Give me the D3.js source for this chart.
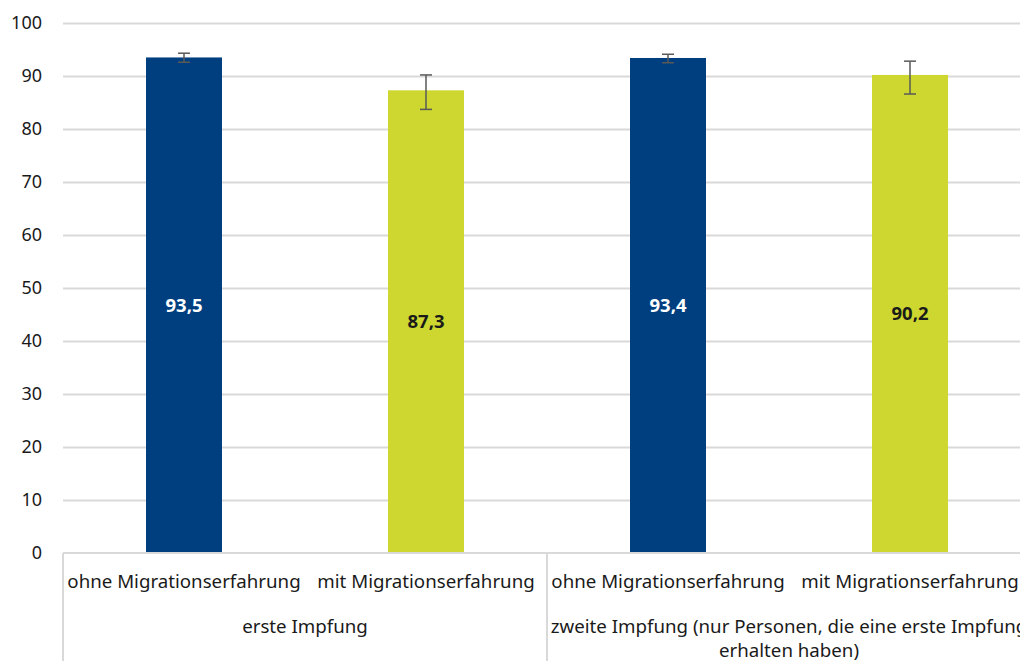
<!DOCTYPE html>
<html>
<head>
<meta charset="utf-8">
<title>Impfung</title>
<script src="https://d3js.org/d3.v7.min.js"></script>
<style>
  body { margin: 0; background: #fff; }
  svg { display: block; font-family: "Noto Sans", sans-serif; }
  .grid line { stroke: #d9d9d9; stroke-width: 2px; }
  .grid .domain { display: none; }
</style>
</head>
<body>
<script>
// data
var categories = ["ohne Migrationserfahrung", "mit Migrationserfahrung", "ohne Migrationserfahrung", "mit Migrationserfahrung"];
var groups = [["erste Impfung"], ["zweite Impfung (nur Personen, die eine erste Impfung", "erhalten haben)"]];
var values = [93.5, 87.3, 93.4, 90.2];
var errLow = [92.6, 83.7, 92.5, 86.6];
var errHigh = [94.3, 90.2, 94.1, 92.8];
var labels = ["93,5", "87,3", "93,4", "90,2"];
var yTicks = [0, 10, 20, 30, 40, 50, 60, 70, 80, 90, 100];

var W = 1020, H = 661;
var margin = {top: 23, left: 63, bottom: 108};
var plotH = H - margin.top - margin.bottom;   // 530
var plotRight = 1031;
var fs = 18.7;

var svg = d3.select("body").append("svg")
    .attr("width", W)
    .attr("height", H);

var x = d3.scaleBand()
    .domain(d3.range(categories.length))
    .range([margin.left, plotRight])
    .paddingInner(0.686)
    .paddingOuter(0.343);

var y = d3.scaleLinear().domain([0, 100]).range([margin.top + plotH, margin.top]);

var colors = ["#003f7f", "#cdd72f", "#003f7f", "#cdd72f"];

// gridlines
svg.append("g")
    .attr("class", "grid")
    .attr("transform", "translate(" + margin.left + ",0)")
    .call(d3.axisLeft(y).tickValues(yTicks.slice(1)).tickSize(-(plotRight - margin.left)).tickFormat(""));

// y tick labels
svg.selectAll(".ylab")
    .data(yTicks)
    .enter().append("text")
    .attr("x", 42)
    .attr("y", function(d) { return y(d); })
    .attr("dy", "0.35em")
    .attr("text-anchor", "end")
    .attr("font-size", 18)
    .attr("fill", "#1a1a1a")
    .text(function(d) { return d; });

// bars
svg.selectAll(".bar")
    .data(values)
    .enter().append("rect")
    .attr("x", function(d, i) { return x(i); })
    .attr("y", function(d) { return y(d); })
    .attr("width", x.bandwidth())
    .attr("height", function(d) { return y(0) - y(d); })
    .attr("fill", function(d, i) { return colors[i]; });

// error bars
var eb = svg.selectAll(".err")
    .data(values)
    .enter().append("g")
    .attr("stroke", "#595959")
    .attr("stroke-width", 1.5);
eb.append("line")
    .attr("x1", function(d, i) { return x(i) + x.bandwidth() / 2; })
    .attr("x2", function(d, i) { return x(i) + x.bandwidth() / 2; })
    .attr("y1", function(d, i) { return y(errLow[i]); })
    .attr("y2", function(d, i) { return y(errHigh[i]); });
[errLow, errHigh].forEach(function(arr) {
  eb.append("line")
      .attr("x1", function(d, i) { return x(i) + x.bandwidth() / 2 - 6; })
      .attr("x2", function(d, i) { return x(i) + x.bandwidth() / 2 + 6; })
      .attr("y1", function(d, i) { return y(arr[i]); })
      .attr("y2", function(d, i) { return y(arr[i]); });
});

// value labels
svg.selectAll(".val")
    .data(values)
    .enter().append("text")
    .attr("x", function(d, i) { return x(i) + x.bandwidth() / 2; })
    .attr("y", function(d) { return (y(0) + y(d)) / 2; })
    .attr("dy", "0.35em")
    .attr("text-anchor", "middle")
    .attr("font-size", 18.5)
    .attr("font-weight", "bold")
    .attr("fill", function(d, i) { return i % 2 === 0 ? "#ffffff" : "#1a1a1a"; })
    .text(function(d, i) { return labels[i]; });

// baseline and group separators
svg.append("line")
    .attr("x1", margin.left).attr("x2", plotRight)
    .attr("y1", y(0)).attr("y2", y(0))
    .attr("stroke", "#d9d9d9").attr("stroke-width", 2);

var step = x.step();
[0, 2, 4].forEach(function(k) {
  var xs = margin.left + k * step;
  svg.append("line")
      .attr("x1", xs).attr("x2", xs)
      .attr("y1", y(0)).attr("y2", H)
      .attr("stroke", "#d9d9d9").attr("stroke-width", 2);
});

// category labels
svg.selectAll(".cat")
    .data(categories)
    .enter().append("text")
    .attr("x", function(d, i) { return x(i) + x.bandwidth() / 2; })
    .attr("y", 588)
    .attr("text-anchor", "middle")
    .attr("font-size", fs)
    .attr("fill", "#1a1a1a")
    .text(function(d) { return d; });

// group labels
groups.forEach(function(lines, g) {
  var cx = margin.left + (g * 2 + 1) * step;
  lines.forEach(function(t, j) {
    svg.append("text")
        .attr("x", cx)
        .attr("y", 633 + j * 24)
        .attr("text-anchor", "middle")
        .attr("font-size", fs)
        .attr("fill", "#1a1a1a")
        .text(t);
  });
});
</script>
</body>
</html>
